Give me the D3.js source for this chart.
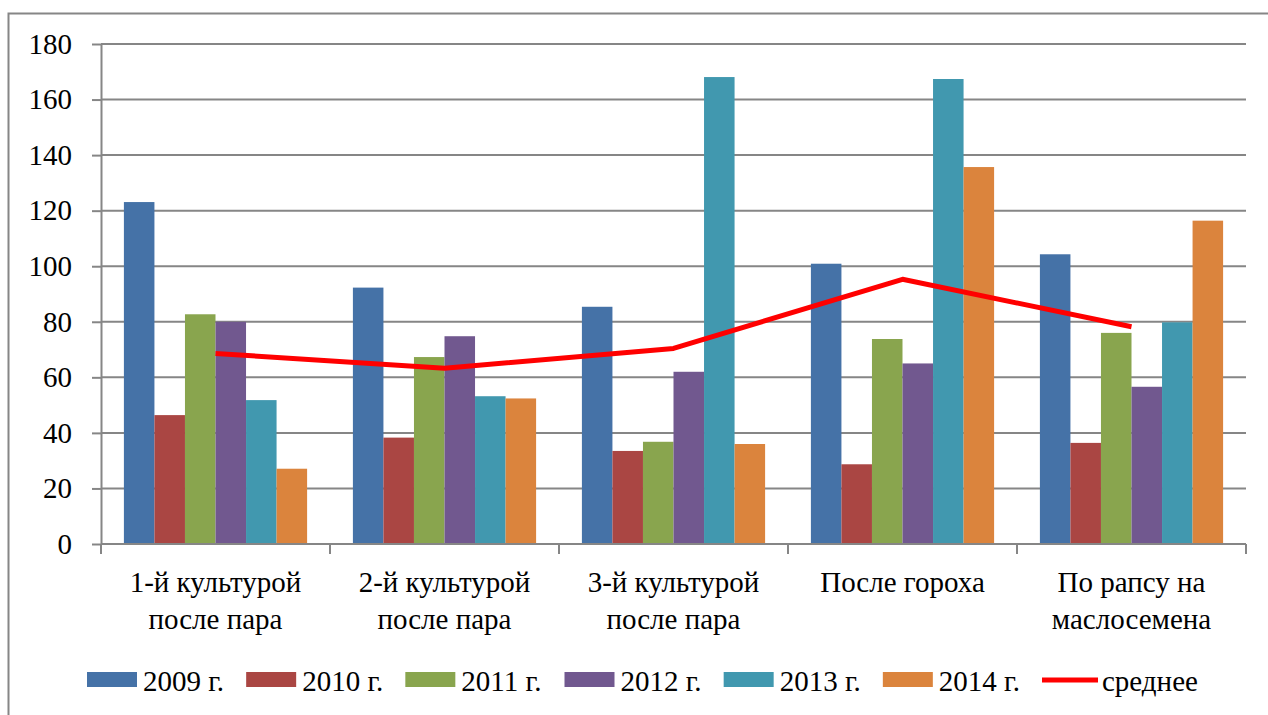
<!DOCTYPE html>
<html>
<head>
<meta charset="utf-8">
<script src="https://cdn.jsdelivr.net/npm/d3@7"></script>
<style>
  @font-face {
    font-family: "ChartSerif";
    src: local("Liberation Serif"), local("LiberationSerif"), local("Times New Roman");
  }
</style>
</head>
<body style="margin:0; background:#fff">
<main></main>
<script>
// categories (two lines each on the axis)
let categories = [
  ['1-й культурой', 'после пара'],
  ['2-й культурой', 'после пара'],
  ['3-й культурой', 'после пара'],
  ['После гороха'],
  ['По рапсу на', 'маслосемена']
];

let years = ['2009 г.', '2010 г.', '2011 г.', '2012 г.', '2013 г.', '2014 г.'];
let colors = ['#4572a7', '#aa4643', '#89a54e', '#71588f', '#4198af', '#db843d'];

// values per year, one per category
let v2009 = [123.1, 92.3, 85.4, 100.9, 104.3];
let v2010 = [46.4, 38.3, 33.5, 28.7, 36.4];
let v2011 = [82.7, 67.3, 36.8, 73.8, 76.0];
let v2012 = [80.0, 74.8, 62.0, 65.0, 56.6];
let v2013 = [51.8, 53.2, 168.1, 167.4, 79.8];
let v2014 = [27.1, 52.4, 36.0, 135.7, 116.4];
let average = [68.6, 63.3, 70.4, 95.3, 78.2];

let yTicks = [0, 20, 40, 60, 80, 100, 120, 140, 160, 180];

let series = [v2009, v2010, v2011, v2012, v2013, v2014];

let width = 1268;
let height = 715;
let margin = { top: 44, left: 101, right: 22, bottom: 171 };
let serifFont = '"Times New Roman"';

let svg = d3.select('main')
  .append('svg')
  .attr('width', width)
  .attr('height', height);

// outer chart frame (runs off the right and bottom edges)
svg.append('rect')
  .attr('x', 8.5)
  .attr('y', 13.5)
  .attr('width', width)
  .attr('height', height)
  .attr('fill', 'none')
  .attr('stroke', '#868686')
  .attr('stroke-width', 2);

let x0 = d3.scaleBand()
  .domain(d3.range(categories.length))
  .range([margin.left, width - margin.right]);

let x1 = d3.scaleBand()
  .domain(d3.range(years.length))
  .range([x0.bandwidth() * 0.1, x0.bandwidth() * 0.9]);

let y = d3.scaleLinear()
  .domain([0, 180])
  .range([height - margin.bottom, margin.top]);

// horizontal grid lines
svg.append('g')
  .selectAll('line')
  .data(yTicks.slice(1))
  .enter().append('line')
  .attr('x1', margin.left)
  .attr('x2', width - margin.right)
  .attr('y1', d => y(d))
  .attr('y2', d => y(d))
  .attr('stroke', '#868686')
  .attr('stroke-width', 2);

// y axis
let yAxis = svg.append('g')
  .attr('transform', `translate(${margin.left},0)`)
  .call(d3.axisLeft(y).tickValues(yTicks).tickSizeInner(9).tickSizeOuter(0).tickPadding(20));
yAxis.attr('font-family', null).attr('font-size', null);
yAxis.select('.domain').attr('stroke', '#868686').attr('stroke-width', 2);
yAxis.selectAll('.tick line').attr('stroke', '#868686').attr('stroke-width', 2);
yAxis.selectAll('.tick text')
  .attr('font-size', 29)
  .style('font-family', serifFont)
  .attr('fill', '#000');

// bars
let groups = svg.append('g')
  .selectAll('g')
  .data(categories.map((c, i) => i))
  .enter().append('g')
  .attr('transform', i => `translate(${x0(i)},0)`);

groups.selectAll('rect')
  .data(i => series.map((s, k) => ({ k: k, v: s[i] })))
  .enter().append('rect')
  .attr('x', d => x1(d.k))
  .attr('width', x1.bandwidth())
  .attr('y', d => y(d.v))
  .attr('height', d => y(0) - y(d.v))
  .attr('fill', d => colors[d.k]);

// x axis line and boundary ticks
let xAxis = svg.append('g');
xAxis.append('line')
  .attr('x1', margin.left)
  .attr('x2', width - margin.right)
  .attr('y1', y(0))
  .attr('y2', y(0))
  .attr('stroke', '#868686')
  .attr('stroke-width', 2);

let bounds = d3.range(categories.length + 1).map(i => margin.left + i * x0.step());
xAxis.selectAll('.xtick')
  .data(bounds)
  .enter().append('line')
  .attr('class', 'xtick')
  .attr('x1', d => d)
  .attr('x2', d => d)
  .attr('y1', y(0))
  .attr('y2', y(0) + 10)
  .attr('stroke', '#868686')
  .attr('stroke-width', 2);

// category labels, one text per line
let labelLines = [];
categories.forEach((c, i) => c.forEach((t, j) => labelLines.push({ i: i, j: j, t: t })));

svg.append('g')
  .selectAll('text')
  .data(labelLines)
  .enter().append('text')
  .attr('text-anchor', 'middle')
  .attr('x', d => x0(d.i) + x0.bandwidth() / 2)
  .attr('y', d => y(0) + 48 + d.j * 37)
  .attr('font-size', 29)
  .style('font-family', serifFont)
  .text(d => d.t);

// average line
let line = d3.line()
  .x((d, i) => x0(i) + x0.bandwidth() / 2)
  .y(d => y(d));

svg.append('path')
  .datum(average)
  .attr('d', line)
  .attr('fill', 'none')
  .attr('stroke', '#ff0000')
  .attr('stroke-width', 5)
  .attr('stroke-linejoin', 'round');

// legend: evenly spaced entries
let legendItems = years.map((name, k) => ({ name: name, color: colors[k], type: 'bar' }));
legendItems.push({ name: 'среднее', color: '#ff0000', type: 'line' });

let lxScale = d3.scaleLinear()
  .domain([0, legendItems.length - 1])
  .range([87, 1042]);

let legend = svg.append('g')
  .attr('transform', 'translate(0,680)')
  .selectAll('g')
  .data(legendItems)
  .enter().append('g')
  .attr('transform', (d, i) => `translate(${lxScale(i)},0)`);

legend.filter(d => d.type === 'bar')
  .append('rect')
  .attr('x', 0)
  .attr('y', -8)
  .attr('width', 50)
  .attr('height', 15)
  .attr('fill', d => d.color);

legend.filter(d => d.type === 'line')
  .append('line')
  .attr('x1', 0)
  .attr('x2', 56)
  .attr('y1', 0)
  .attr('y2', 0)
  .attr('stroke', d => d.color)
  .attr('stroke-width', 5);

legend.append('text')
  .attr('x', d => d.type === 'bar' ? 56 : 60)
  .attr('y', 11)
  .attr('font-size', 29)
  .style('font-family', serifFont)
  .text(d => d.name);
</script>
</body>
</html>
